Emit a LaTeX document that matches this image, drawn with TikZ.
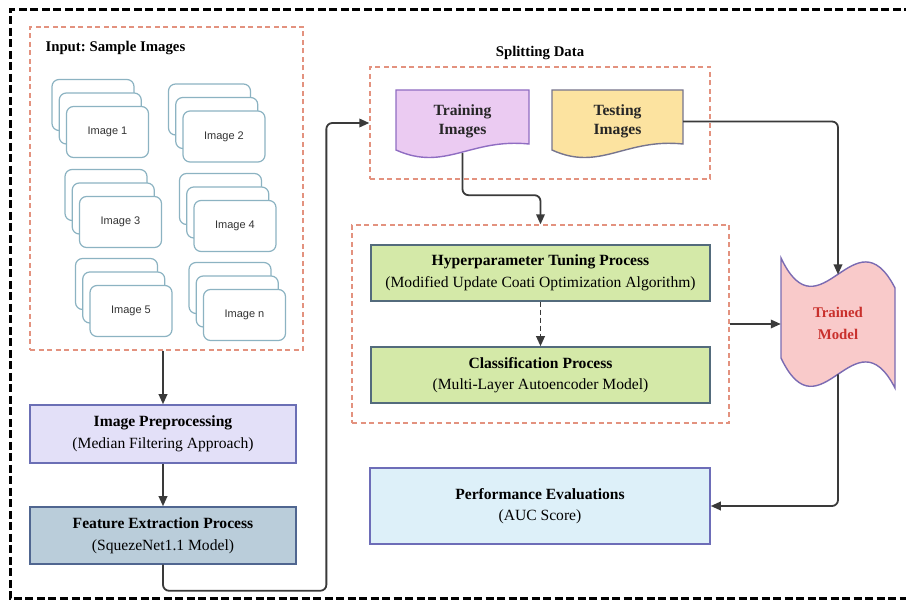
\documentclass[tikz,border=0pt]{standalone}
\usepackage{fontspec}
\setmainfont{Liberation Serif}
\newfontfamily\cardfont{Liberation Sans}
\usetikzlibrary{arrows.meta,backgrounds}
\definecolor{FlowLine}{HTML}{3A3A3A}
\definecolor{GroupRed}{HTML}{E3927F}
\definecolor{CardEdge}{HTML}{8CB3C2}
\definecolor{PrepFill}{HTML}{E3E0F8}
\definecolor{PrepEdge}{HTML}{6B6FB5}
\definecolor{FeatFill}{HTML}{BACDDA}
\definecolor{FeatEdge}{HTML}{506690}
\definecolor{TrainFill}{HTML}{EBCBF2}
\definecolor{TrainEdge}{HTML}{8F6DC2}
\definecolor{TestFill}{HTML}{FCE3A0}
\definecolor{TestEdge}{HTML}{76758F}
\definecolor{ProcFill}{HTML}{D4E9A8}
\definecolor{ProcEdge}{HTML}{536B7C}
\definecolor{EvalFill}{HTML}{DDF0F9}
\definecolor{EvalEdge}{HTML}{6D6DB8}
\definecolor{ModelFill}{HTML}{F9CACA}
\definecolor{ModelEdge}{HTML}{7B6BB2}
\definecolor{ModelText}{HTML}{C9302C}

\tikzset{
    groupbox/.style={draw=GroupRed, line width=1.3pt, dash pattern=on 5pt off 3.5pt},
    card/.style={draw=CardEdge, fill=white, line width=1.2pt, rounded corners=7pt,
        minimum width=82pt, minimum height=51pt, text=black!80,
        font=\cardfont\fontsize{11}{13}\selectfont},
    procbox/.style={draw, line width=1.5pt, align=center, inner sep=2pt,
        font=\fontsize{15.6}{21.5}\selectfont},
    docbox/.style={align=center, inner sep=0pt, text=black!85,
        font=\bfseries\fontsize{15.6}{18.5}\selectfont},
    grouplabel/.style={font=\bfseries\fontsize{14.8}{17}\selectfont},
    conn/.style={->, draw=FlowLine, line width=1.8pt, rounded corners=6pt}
}

\begin{document}
\begin{tikzpicture}[x=1pt, y=-1pt, >={Stealth[inset=0pt, length=10pt, width=8.5pt]}]
    \useasboundingbox (0,0) rectangle (906,609);

    % Outer frame
    \draw[line width=3pt, dash pattern=on 8pt off 3.5pt]
        (912,10) -- (10,10) -- (10,599) -- (912,599);

    % Input group with image stacks
    \node[groupbox, minimum width=273pt, minimum height=323pt] (input) at (166.5,188.5) {};
    \node[grouplabel, anchor=west] (inputlbl) at (42,48) {Input:\ Sample Images};
    \foreach \cx/\cy/\num in {107.5/132/1, 224/136.5/2, 120.5/222/3,
                              235/226/4, 131/311/5, 244.5/315/n} {
        \node[card] (img\num-back) at (\cx-14.5,\cy-27) {};
        \node[card] (img\num-mid) at (\cx-7.25,\cy-13.5) {};
        \node[card] (img\num) at (\cx,\cy) {Image \num};
    }

    % Preprocessing and features
    \node[procbox, draw=PrepEdge, fill=PrepFill, minimum width=266pt, minimum height=58pt]
        (prep) at (163,434) {\textbf{Image Preprocessing}\\(Median Filtering Approach)};
    \node[procbox, draw=FeatEdge, fill=FeatFill, minimum width=266pt, minimum height=57pt]
        (feat) at (163,535.5) {\textbf{Feature Extraction Process}\\(SquezeNet1.1 Model)};

    % Splitting data
    \node[groupbox, minimum width=340pt, minimum height=112pt] (split) at (540,123) {};
    \node[grouplabel] (splitlbl) at (540,53) {Splitting Data};
    \node[docbox, minimum width=133pt, minimum height=63pt] (train) at (462.5,121.5) {Training\\Images};
    \node[docbox, minimum width=131pt, minimum height=63pt] (test) at (617.5,121.5) {Testing\\Images};

    % Tuning and classification
    \node[groupbox, minimum width=377pt, minimum height=198pt] (ml) at (540.5,324) {};
    \node[procbox, draw=ProcEdge, fill=ProcFill, minimum width=339pt, minimum height=56pt]
        (hyper) at (540.5,273) {\textbf{Hyperparameter Tuning Process}\\(Modified Update Coati Optimization Algorithm)};
    \node[procbox, draw=ProcEdge, fill=ProcFill, minimum width=339pt, minimum height=56pt]
        (class) at (540.5,375) {\textbf{Classification Process}\\(Multi-Layer Autoencoder Model)};

    % Evaluation
    \node[procbox, draw=EvalEdge, fill=EvalFill, minimum width=340pt, minimum height=76pt]
        (perf) at (540,506) {\textbf{Performance Evaluations}\\(AUC Score)};

    % Trained model
    \node[align=center, inner sep=0pt, text=ModelText, minimum width=114pt, minimum height=130pt,
        font=\bfseries\fontsize{14.8}{22}\selectfont] (tm) at (838,323) {Trained\\Model};
    \coordinate (tmtop) at (838,274.5);
    \coordinate (tmbot) at (838,374.5);

    % Wavy outlines
    \begin{scope}[on background layer]
        \filldraw[draw=TrainEdge, fill=TrainFill, line width=1.4pt]
            (396,90) -- (529,90) -- (529,144) .. controls (470,138) and (445,172) .. (396,150) -- cycle;
        \filldraw[draw=TestEdge, fill=TestFill, line width=1.4pt]
            (552,90) -- (683,90) -- (683,144) .. controls (625,138) and (600,172) .. (552,150) -- cycle;
        \filldraw[draw=ModelEdge, fill=ModelFill, line width=1.4pt]
            (781,258) .. controls (820,340) and (855,210) .. (895,288) -- (895,388)
            .. controls (855,310) and (820,440) .. (781,358) -- cycle;
    \end{scope}

    % Connectors
    \draw[conn] (input.south -| prep.north) -- (prep.north);
    \draw[conn] (prep) -- (feat);
    \draw[conn] (feat.south) -- ++(0,26) -| ([xshift=-43pt]split.west) -- (split.west);
    \draw[conn] (train.south) -- ++(0,42) -| (ml.north);
    \draw[conn, dash pattern=on 5pt off 3pt] (hyper) -- (class);
    \draw[conn] (test.east) -| (tmtop);
    \draw[conn] (ml.east) -- (ml.east -| tm.west);
    \draw[conn] (tmbot) |- (perf.east);
\end{tikzpicture}
\end{document}
